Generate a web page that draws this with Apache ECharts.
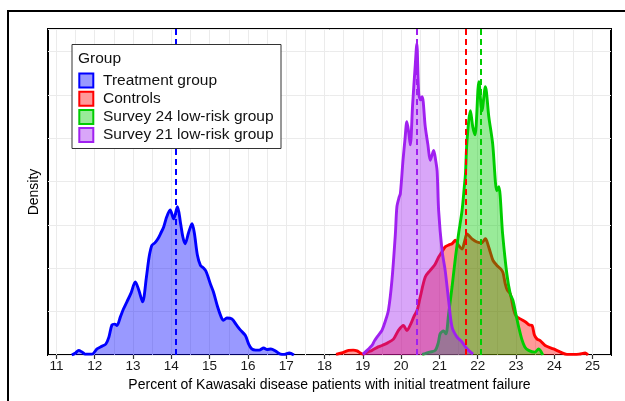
<!DOCTYPE html>
<html>
<head>
<meta charset="utf-8">
<script src="https://cdn.jsdelivr.net/npm/echarts@6/dist/echarts.min.js"></script>
<style>
html,body{margin:0;padding:0;background:#fff;}
#chart{width:625px;height:401px;}
</style>
</head>
<body>
<div id="chart"></div>
<script>
// ---- data ----
const groups = ['Treatment group', 'Controls', 'Survey 24 low-risk group', 'Survey 21 low-risk group'];
const lineColors = ['#0000FF', '#FF0000', '#00CD00', '#A020F0'];
const fillColors = ['rgba(0,0,255,0.4)', 'rgba(255,0,0,0.4)', 'rgba(0,205,0,0.4)', 'rgba(160,32,240,0.4)'];
const groupMeans = [14.12, 21.68, 22.09, 20.42];
const xTicks = [11,12,13,14,15,16,17,18,19,20,21,22,23,24,25];
const xGrid = [11,11.5,12,12.5,13,13.5,14,14.5,15,15.5,16,16.5,17,17.5,18,18.5,19,19.5,20,20.5,21,21.5,22,22.5,23,23.5,24,24.5,25];
const xTitle = 'Percent of Kawasaki disease patients with initial treatment failure';
const yTitle = 'Density';

const treatment = [[11.40,0],[11.50,0.007],[11.58,0.016],[11.67,0.010],[11.75,0.003],[11.93,0.003],[12.06,0.021],[12.20,0.031],[12.29,0.038],[12.37,0.062],[12.45,0.104],[12.52,0.107],[12.58,0.102],[12.67,0.132],[12.75,0.159],[12.84,0.184],[12.95,0.215],[13.06,0.253],[13.15,0.225],[13.25,0.184],[13.35,0.270],[13.42,0.339],[13.49,0.379],[13.57,0.388],[13.65,0.402],[13.73,0.423],[13.80,0.443],[13.88,0.478],[13.97,0.502],[14.06,0.471],[14.16,0.513],[14.24,0.457],[14.30,0.409],[14.36,0.385],[14.45,0.423],[14.54,0.454],[14.60,0.423],[14.68,0.346],[14.76,0.310],[14.84,0.301],[14.90,0.291],[14.96,0.270],[15.02,0.246],[15.10,0.218],[15.21,0.166],[15.30,0.132],[15.36,0.120],[15.45,0.128],[15.58,0.125],[15.70,0.104],[15.80,0.087],[15.93,0.068],[16.02,0.038],[16.10,0.021],[16.20,0.017],[16.30,0.017],[16.41,0.024],[16.50,0.019],[16.60,0.021],[16.72,0.014],[16.85,0.003],[16.95,0.002],[17.08,0.007],[17.20,0]];

const controls = [[18.30,0.002],[18.45,0.007],[18.63,0.016],[18.75,0.017],[18.85,0.014],[19.00,0.003],[19.12,0.010],[19.24,0.016],[19.40,0.028],[19.50,0.033],[19.65,0.042],[19.80,0.055],[19.93,0.085],[20.06,0.102],[20.15,0.085],[20.25,0.107],[20.33,0.132],[20.42,0.156],[20.50,0.201],[20.63,0.270],[20.76,0.293],[20.88,0.312],[20.98,0.339],[21.08,0.360],[21.15,0.374],[21.25,0.381],[21.33,0.385],[21.42,0.397],[21.50,0.379],[21.59,0.367],[21.66,0.395],[21.72,0.419],[21.78,0.412],[21.85,0.402],[21.98,0.391],[22.10,0.388],[22.20,0.402],[22.27,0.381],[22.33,0.355],[22.40,0.327],[22.50,0.310],[22.60,0.298],[22.66,0.285],[22.72,0.246],[22.77,0.225],[22.85,0.211],[22.94,0.156],[23.00,0.135],[23.11,0.125],[23.25,0.114],[23.35,0.104],[23.42,0.102],[23.48,0.069],[23.55,0.055],[23.63,0.050],[23.76,0.033],[23.98,0.021],[24.16,0.010],[24.33,0.002],[24.50,0.002],[24.65,0.003],[24.81,0.007],[24.88,0]];

const survey24 = [[20.55,0.002],[20.63,0.005],[20.75,0.010],[20.89,0.016],[20.97,0.042],[21.02,0.074],[21.11,0.083],[21.17,0.073],[21.24,0.142],[21.33,0.236],[21.42,0.339],[21.50,0.419],[21.59,0.499],[21.65,0.582],[21.68,0.627],[21.72,0.741],[21.81,0.845],[21.87,0.790],[21.93,0.762],[22.03,0.946],[22.11,0.845],[22.20,0.928],[22.29,0.824],[22.39,0.731],[22.50,0.568],[22.55,0.582],[22.65,0.419],[22.76,0.281],[22.85,0.211],[22.92,0.189],[23.00,0.139],[23.07,0.097],[23.15,0.055],[23.23,0.028],[23.33,0.016],[23.49,0.010],[23.59,0.021],[23.70,0]];

const survey21 = [[19.00,0.002],[19.11,0.016],[19.24,0.033],[19.30,0.048],[19.37,0.062],[19.45,0.076],[19.50,0.085],[19.58,0.114],[19.67,0.156],[19.76,0.258],[19.85,0.419],[19.89,0.513],[19.95,0.547],[19.98,0.558],[20.05,0.675],[20.10,0.745],[20.15,0.807],[20.20,0.769],[20.24,0.727],[20.30,0.866],[20.37,1.005],[20.41,1.077],[20.46,0.904],[20.51,0.883],[20.55,0.894],[20.63,0.790],[20.70,0.727],[20.76,0.674],[20.81,0.693],[20.85,0.708],[20.90,0.675],[20.94,0.637],[20.98,0.499],[21.07,0.360],[21.15,0.293],[21.24,0.189],[21.33,0.097],[21.46,0.062],[21.59,0.045],[21.68,0.028],[21.76,0.016],[21.88,0.003]];

const seriesData = [treatment, controls, survey24, survey21];

// ---- chart ----
const FONT = 'Liberation Sans, Arial, Helvetica, sans-serif';
const chart = echarts.init(document.getElementById('chart'), null, {renderer: 'canvas'});

const series = [{
  type: 'line',
  name: '_grid',
  data: [[11, 0]],
  showSymbol: false,
  silent: true,
  z: 1,
  lineStyle: {opacity: 0},
  markLine: {
    silent: true,
    z: 1,
    symbol: 'none',
    label: {show: false},
    lineStyle: {color: '#EBEBEB', width: 1, type: 'solid'},
    data: xGrid.map(v => ({xAxis: v}))
  }
}];

seriesData.forEach((d, i) => {
  series.push({
    type: 'line',
    name: groups[i],
    data: d,
    smooth: 0.3,
    showSymbol: false,
    z: 2 + i,
    lineStyle: {color: lineColors[i], width: 2.9},
    itemStyle: {color: lineColors[i]},
    areaStyle: {color: fillColors[i], opacity: 1},
    markLine: {
      silent: true,
      z: 12,
      symbol: 'none',
      label: {show: false},
      lineStyle: {color: lineColors[i], width: 2, type: [6, 4]},
      data: [{xAxis: groupMeans[i]}]
    }
  });
});

const legendGraphics = [
  {type: 'rect', shape: {x: 72, y: 44.5, width: 209, height: 104}, style: {fill: '#fff', stroke: '#333', lineWidth: 1}, z: 14},
  {type: 'text', x: 78, y: 58.5, style: {text: 'Group', font: '15.5px ' + FONT, fill: '#111', textVerticalAlign: 'middle', verticalAlign: 'middle'}, z: 15}
];
groups.forEach((g, i) => {
  const cy = 80.5 + i * 18.2;
  legendGraphics.push({type: 'rect', shape: {x: 79.3, y: cy - 7, width: 14, height: 14}, style: {fill: fillColors[i], stroke: lineColors[i], lineWidth: 2}, z: 15});
  legendGraphics.push({type: 'text', x: 103, y: cy, style: {text: g, font: '15.5px ' + FONT, fill: '#111', verticalAlign: 'middle', textVerticalAlign: 'middle'}, z: 15});
});

const option = {
  animation: false,
  backgroundColor: '#fff',
  textStyle: {fontFamily: FONT},
  grid: {left: 48, right: 14, top: 29, bottom: 46, show: true, borderColor: '#000', borderWidth: 2, backgroundColor: 'transparent', containLabel: false},
  xAxis: {
    type: 'value',
    min: 10.78,
    max: 25.48,
    axisLine: {show: false},
    axisTick: {show: true, customValues: xTicks, length: 4, lineStyle: {color: '#333', width: 1.2}},
    axisLabel: {customValues: xTicks, fontSize: 13.5, color: '#1a1a1a', margin: 4, fontFamily: FONT},
    splitLine: {show: false},
    name: xTitle,
    nameLocation: 'middle',
    nameGap: 20,
    nameTextStyle: {fontSize: 14, color: '#000', fontFamily: FONT}
  },
  yAxis: {
    type: 'value',
    min: 0,
    max: 1.128,
    interval: 0.15,
    axisLine: {show: false},
    axisTick: {show: false},
    axisLabel: {show: false},
    splitLine: {show: true, lineStyle: {color: '#EBEBEB', width: 1}},
    name: yTitle,
    nameLocation: 'middle',
    nameGap: 7,
    nameRotate: 90,
    nameTextStyle: {fontSize: 14, color: '#000', fontFamily: FONT}
  },
  graphic: [
    {type: 'rect', shape: {x: 8, y: 11, width: 720, height: 520}, style: {fill: 'none', stroke: '#000', lineWidth: 2}, silent: true, z: 20}
  ].concat(legendGraphics),
  series: series
};
chart.setOption(option);
</script>
</body>
</html>
